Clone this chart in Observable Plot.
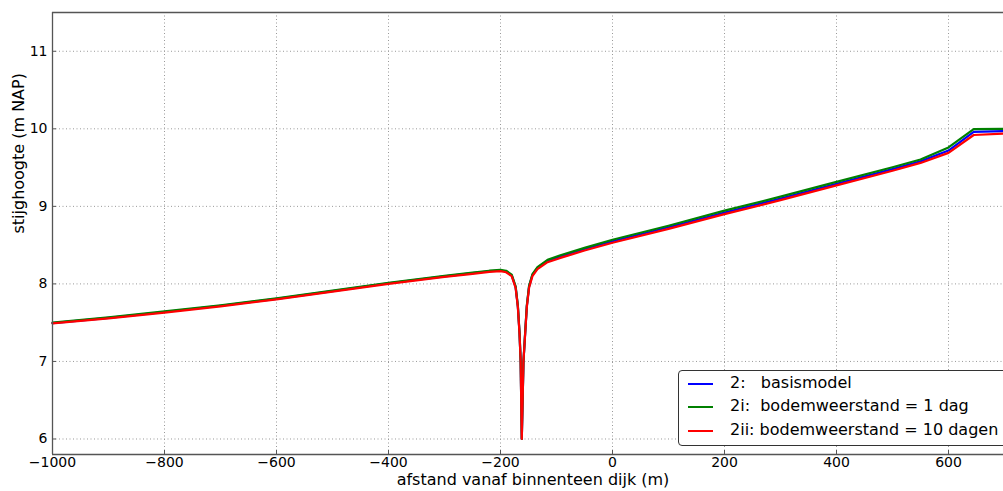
<!DOCTYPE html>
<html><head><meta charset="utf-8">
<script src="https://cdn.jsdelivr.net/npm/d3@7"></script>
<script src="https://cdn.jsdelivr.net/npm/@observablehq/plot@0.6"></script>
<style>
html,body{margin:0;padding:0;background:#fff;}
#wrap{position:relative;width:1003px;height:491px;overflow:hidden;font-family:"DejaVu Sans",sans-serif;}
#wrap svg{position:absolute;left:0;top:0;}
.lbox{position:absolute;left:678px;top:370px;width:340px;height:76px;border:1.3px solid #333;border-radius:4px;background:#fff;box-sizing:border-box;}
.lline{position:absolute;left:688px;width:25px;height:2px;}
.ltext{position:absolute;left:730px;font-size:16px;line-height:18px;white-space:pre;color:#000;}
</style></head><body><div id="wrap"></div><script>
// distance from inner toe of dike (m)
const xs = [-1000,-900,-800,-700,-600,-500,-400,-300,-250,-220,-200,-190,-180,-173,-169,-166,-164,-162,-159,-156,-153,-149,-143,-134,-116,-93,-50,0,100,200,300,400,500,550,600,645,700];
const seriesNames = ["2:   basismodel", "2i:  bodemweerstand = 1 dag", "2ii: bodemweerstand = 10 dagen"];
const seriesColors = ["#0000ff", "#008000", "#ff0000"];
const blue  = [7.495,7.562,7.638,7.718,7.808,7.907,8.008,8.098,8.138,8.163,8.173,8.16,8.11,7.96,7.71,7.36,7.0,6.0,7.0,7.36,7.71,7.965,8.115,8.205,8.30,8.355,8.45,8.55,8.73,8.92,9.10,9.29,9.48,9.58,9.72,9.96,9.97];
const green = [7.50,7.57,7.645,7.725,7.815,7.915,8.015,8.105,8.145,8.17,8.18,8.17,8.12,7.97,7.72,7.37,7.0,6.0,7.0,7.37,7.72,7.975,8.125,8.215,8.31,8.37,8.465,8.57,8.75,8.945,9.125,9.315,9.505,9.605,9.76,9.995,10.0];
const red   = [7.49,7.555,7.63,7.71,7.80,7.90,8.00,8.09,8.13,8.155,8.165,8.15,8.10,7.95,7.70,7.35,7.0,6.0,7.0,7.35,7.70,7.95,8.10,8.19,8.28,8.335,8.43,8.53,8.71,8.90,9.08,9.27,9.46,9.56,9.69,9.92,9.94];
const xTicks = [-1000,-800,-600,-400,-200,0,200,400,600];
const yTicks = [6,7,8,9,10,11];
const xDomain = [-1000, 700];
const yDomain = [5.8, 11.5];
const xLabel = "afstand vanaf binnenteen dijk (m)";
const yLabel = "stijghoogte (m NAP)";

const seriesValues = [blue, green, red];
const data = [];
seriesValues.forEach((vals, s) => xs.forEach((x, i) => data.push({x, y: vals[i], s: seriesNames[s]})));

const fmt = d3.format("d");
const chart = Plot.plot({
  width: 1003, height: 491,
  marginLeft: 52, marginTop: 12, marginBottom: 37, marginRight: 0,
  style: {fontFamily: "DejaVu Sans", fontSize: "14px", color: "#000", background: "#fff"},
  x: {domain: xDomain, range: [52, 1004]},
  y: {domain: yDomain},
  color: {domain: seriesNames, range: seriesColors},
  marks: [
    Plot.gridX(xTicks, {stroke: "#999", strokeOpacity: 1, strokeDasharray: "1,2.5"}),
    Plot.gridY(yTicks, {stroke: "#999", strokeOpacity: 1, strokeDasharray: "1,2.5"}),
    Plot.line(data, {x: "x", y: "y", z: "s", stroke: "s", strokeWidth: 2.2}),
    Plot.ruleX([xDomain[0]], {stroke: "#555", strokeWidth: 1.3}),
    Plot.ruleY(yDomain, {stroke: "#555", strokeWidth: 1.3}),
    Plot.axisX(xTicks, {tickFormat: fmt, tickSize: -4, tickPadding: 7, stroke: "#555", label: null, fill: "#000", fontSize: 14}),
    Plot.axisY(yTicks, {tickFormat: fmt, tickSize: -4, tickPadding: 9, stroke: "#555", label: null, fill: "#000", fontSize: 14}),
    Plot.text([xLabel], {frameAnchor: "bottom", dx: 5, dy: 30, fontSize: 16, fill: "#000"}),
    Plot.text([yLabel], {frameAnchor: "left", rotate: -90, dx: -34, fontSize: 16, fill: "#000"})
  ]
});
const wrap = document.getElementById("wrap");
wrap.appendChild(chart);

const box = document.createElement("div");
box.className = "lbox";
wrap.appendChild(box);
const rowY = [384, 407, 431];
seriesNames.forEach((name, i) => {
  const l = document.createElement("div");
  l.className = "lline";
  l.style.top = (rowY[i] - 1) + "px";
  l.style.background = seriesColors[i];
  wrap.appendChild(l);
  const t = document.createElement("div");
  t.className = "ltext";
  t.style.top = (rowY[i] - 10) + "px";
  t.textContent = name;
  wrap.appendChild(t);
});
</script></body></html>
